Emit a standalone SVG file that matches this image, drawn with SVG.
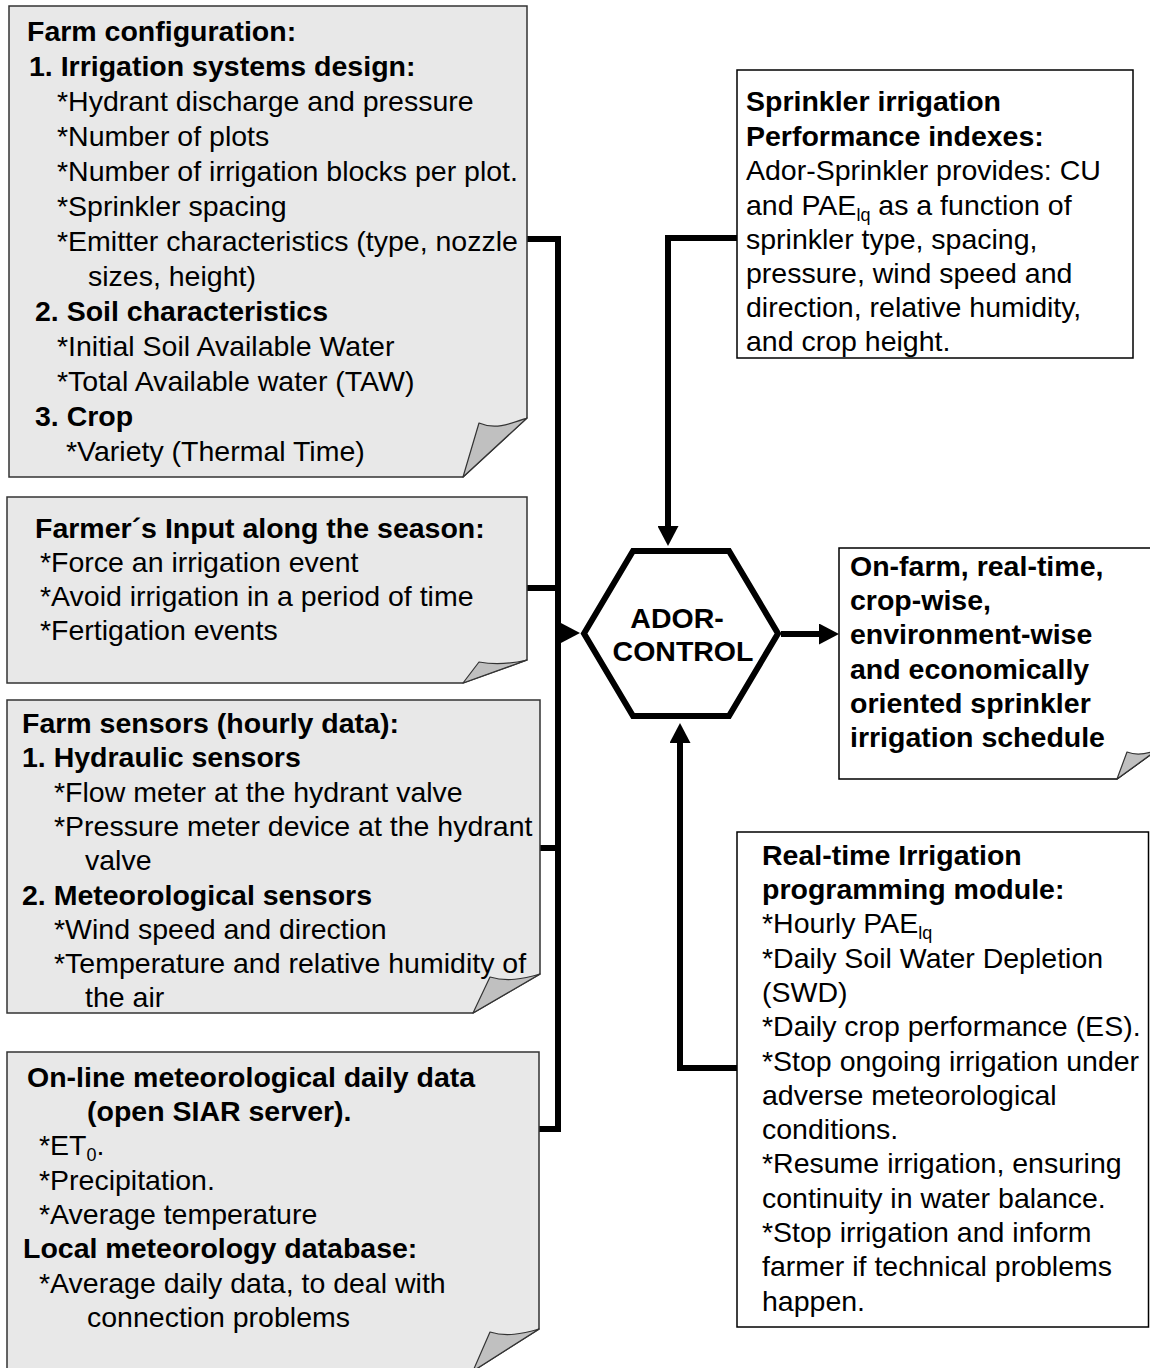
<svg xmlns="http://www.w3.org/2000/svg" width="1150" height="1368" viewBox="0 0 1150 1368">
<style>
.t { font-family: "Liberation Sans", Arial, sans-serif; font-size: 28.5px; fill: #000; }
.b { font-weight: bold; }
.gbox { fill: #e8e8e8; stroke: #333; stroke-width: 1.5; }
.wbox { fill: #fff; stroke: #000; stroke-width: 1.5; }
.flap { fill: #c0c0c0; stroke: #333; stroke-width: 1.2; stroke-linejoin: round; }
.conn { fill: none; stroke: #000; stroke-width: 6; stroke-linejoin: miter; }
.hex { fill: #fff; stroke: #000; stroke-width: 6; }
.sub { font-size: 18px; }
</style>
<defs>
<marker id="ah" markerWidth="20" markerHeight="21" refX="0" refY="10.5" orient="auto" markerUnits="userSpaceOnUse" viewBox="0 0 20 21">
<path d="M0,0 L20,10.5 L0,21 Z" fill="#000"/>
</marker>
</defs>
<rect width="1150" height="1368" fill="#fff"/>

<g id="connectors">
<path class="conn" d="M527,239 H558 V1129 H539"/>
<path class="conn" d="M527,588 H558"/>
<path class="conn" d="M540,848 H558"/>
<path class="conn" d="M556,633 H560" marker-end="url(#ah)"/>
<path class="conn" d="M737,238 H668 V526" marker-end="url(#ah)"/>
<path class="conn" d="M737,1068 H680 V743" marker-end="url(#ah)"/>
<path class="conn" d="M781,634 H819" marker-end="url(#ah)"/>
</g>

<g id="farm-configuration">
<path class="gbox" d="M9,6 H527 V418 L463,477 H9 Z"/>
<path class="flap" d="M463,477 L479,423 C495,430 510,424 527,418 Z"/>
<text class="t">
<tspan class="b" x="27" y="41">Farm configuration:</tspan>
<tspan class="b" x="29" y="76">1. Irrigation systems design:</tspan>
<tspan x="57" y="111">*Hydrant discharge and pressure</tspan>
<tspan x="57" y="146">*Number of plots</tspan>
<tspan x="57" y="181">*Number of irrigation blocks per plot.</tspan>
<tspan x="57" y="216">*Sprinkler spacing</tspan>
<tspan x="57" y="251">*Emitter characteristics (type, nozzle</tspan>
<tspan x="88" y="286">sizes, height)</tspan>
<tspan class="b" x="35" y="321">2. Soil characteristics</tspan>
<tspan x="57" y="356">*Initial Soil Available Water</tspan>
<tspan x="57" y="391">*Total Available water (TAW)</tspan>
<tspan class="b" x="35" y="426">3. Crop</tspan>
<tspan x="66" y="461">*Variety (Thermal Time)</tspan>
</text>
</g>

<g id="farmer-input">
<path class="gbox" d="M7,497 H527 V660 L463,683 H7 Z"/>
<path class="flap" d="M463,683 L479,662 C495,665 510,664 527,660 Z"/>
<text class="t">
<tspan class="b" x="35" y="538">Farmer´s Input along the season:</tspan>
<tspan x="40" y="572">*Force an irrigation event</tspan>
<tspan x="40" y="606">*Avoid irrigation in a period of time</tspan>
<tspan x="40" y="640">*Fertigation events</tspan>
</text>
</g>

<g id="farm-sensors">
<path class="gbox" d="M7,700 H540 V974 L473,1013 H7 Z"/>
<path class="flap" d="M473,1013 L490,977 C507,982 523,979 540,974 Z"/>
<text class="t">
<tspan class="b" x="22" y="733">Farm sensors (hourly data):</tspan>
<tspan class="b" x="22" y="767">1. Hydraulic sensors</tspan>
<tspan x="54" y="802">*Flow meter at the hydrant valve</tspan>
<tspan x="54" y="836">*Pressure meter device at the hydrant</tspan>
<tspan x="85" y="870">valve</tspan>
<tspan class="b" x="22" y="905">2. Meteorological sensors</tspan>
<tspan x="54" y="939">*Wind speed and direction</tspan>
<tspan x="54" y="973">*Temperature and relative humidity of</tspan>
<tspan x="85" y="1007">the air</tspan>
</text>
</g>

<g id="online-meteo">
<path class="gbox" d="M7,1052 H539 V1329 L473,1371 H7 Z"/>
<path class="flap" d="M473,1371 L490,1332 C506,1337 522,1334 539,1329 Z"/>
<text class="t">
<tspan class="b" x="27" y="1087">On-line meteorological daily data</tspan>
<tspan class="b" x="87" y="1121">(open SIAR server).</tspan>
<tspan x="39" y="1155">*ET</tspan><tspan class="sub" dy="6">0</tspan><tspan dy="-6">.</tspan>
<tspan x="39" y="1190">*Precipitation.</tspan>
<tspan x="39" y="1224">*Average temperature</tspan>
<tspan class="b" x="23" y="1258">Local meteorology database:</tspan>
<tspan x="39" y="1293">*Average daily data, to deal with</tspan>
<tspan x="87" y="1327">connection problems</tspan>
</text>
</g>

<g id="sprinkler-performance">
<rect class="wbox" x="737" y="70" width="396" height="288"/>
<text class="t">
<tspan class="b" x="746" y="111">Sprinkler irrigation</tspan>
<tspan class="b" x="746" y="146">Performance indexes:</tspan>
<tspan x="746" y="180">Ador-Sprinkler provides: CU</tspan>
<tspan x="746" y="215">and PAE</tspan><tspan class="sub" dy="6">lq</tspan><tspan dy="-6"> as a function of</tspan>
<tspan x="746" y="249">sprinkler type, spacing,</tspan>
<tspan x="746" y="283">pressure, wind speed and</tspan>
<tspan x="746" y="317">direction, relative humidity,</tspan>
<tspan x="746" y="351">and crop height.</tspan>
</text>
</g>

<g id="ador-control">
<polygon class="hex" points="584,633.5 633,551 729,551 778,633.5 729,716 633,716"/>
<text class="t b" text-anchor="middle">
<tspan x="681" y="628">ADOR-</tspan>
<tspan x="683" y="661">CONTROL</tspan>
</text>
</g>

<g id="schedule-output">
<path class="wbox" d="M839,548 H1157 V750 L1117,779 H839 Z"/>
<path class="flap" d="M1117,779 L1127,752 C1137,756 1147,754 1157,750 Z"/>
<text class="t b">
<tspan x="850" y="576">On-farm, real-time,</tspan>
<tspan x="850" y="610">crop-wise,</tspan>
<tspan x="850" y="644">environment-wise</tspan>
<tspan x="850" y="679">and economically</tspan>
<tspan x="850" y="713">oriented sprinkler</tspan>
<tspan x="850" y="747">irrigation schedule</tspan>
</text>
</g>

<g id="realtime-module">
<rect class="wbox" x="737" y="832" width="411.5" height="495"/>
<text class="t">
<tspan class="b" x="762" y="865">Real-time Irrigation</tspan>
<tspan class="b" x="762" y="899">programming module:</tspan>
<tspan x="762" y="933">*Hourly PAE</tspan><tspan class="sub" dy="6">lq</tspan>
<tspan x="762" y="968">*Daily Soil Water Depletion</tspan>
<tspan x="762" y="1002">(SWD)</tspan>
<tspan x="762" y="1036">*Daily crop performance (ES).</tspan>
<tspan x="762" y="1071">*Stop ongoing irrigation under</tspan>
<tspan x="762" y="1105">adverse meteorological</tspan>
<tspan x="762" y="1139">conditions.</tspan>
<tspan x="762" y="1173">*Resume irrigation, ensuring</tspan>
<tspan x="762" y="1208">continuity in water balance.</tspan>
<tspan x="762" y="1242">*Stop irrigation and inform</tspan>
<tspan x="762" y="1276">farmer if technical problems</tspan>
<tspan x="762" y="1311">happen.</tspan>
</text>
</g>
</svg>
